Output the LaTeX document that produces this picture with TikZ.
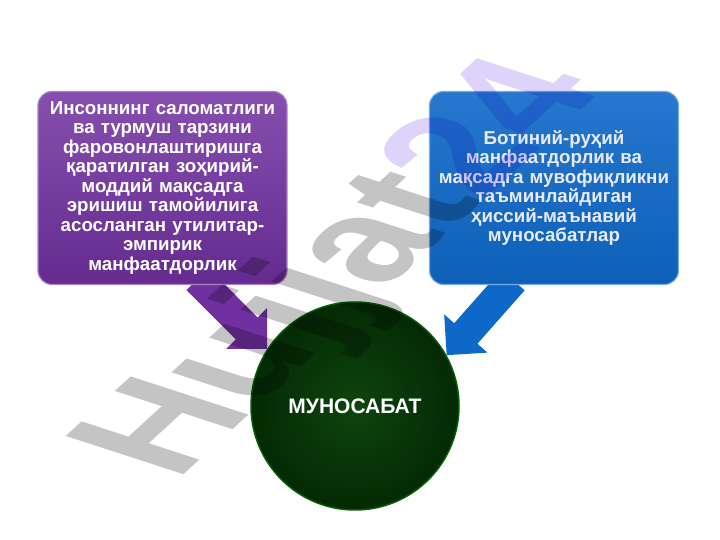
\documentclass[tikz,border=0pt]{standalone}
\usepackage{fontspec}
\setmainfont{Liberation Sans}
\usetikzlibrary{positioning,arrows.meta}

\definecolor{boxpurple}{RGB}{112,48,160}
\definecolor{boxblue}{RGB}{14,104,200}
\definecolor{ringgreen}{RGB}{8,54,8}
\definecolor{ringin}{RGB}{14,68,14}
\definecolor{ringout}{RGB}{4,42,4}
\definecolor{wmgray}{RGB}{196,196,196}
\definecolor{wmlilac}{RGB}{222,212,250}

\pgfdeclarelayer{back}
\pgfsetlayers{back,main}

\begin{document}
\begin{tikzpicture}[x=1pt,y=1pt,>=stealth,thick]

\tikzstyle{textbox}=[rectangle,rounded corners=14pt,inner sep=0pt,minimum width=249pt,minimum height=193pt,text width=249pt,align=center,font=\fontsize{18.7}{19.5}\selectfont\bfseries,line width=1.2pt]
\tikzstyle{bigarrow}=[line width=31pt,-{Triangle[width=56pt,length=29pt]}]

\useasboundingbox (0,0) rectangle (720,540);

\node[textbox,top color=boxpurple!85!white,bottom color=boxpurple!90!black,draw=boxpurple!60!white,text=white] (lbox) at (162.5,352)
  {Инсоннинг саломатлиги\\ва турмуш тарзини\\фаровонлаштиришга\\қаратилган зоҳирий-\\моддий мақсадга\\эришиш тамойилига\\асосланган утилитар-\\эмпирик\\манфаатдорлик};
\node[textbox,top color=boxblue!90!white,bottom color=boxblue!92!black,draw=boxblue!55!white,text=blue!8!white] (rbox) at (554,352)
  {Ботиний-руҳий\\манфаатдорлик ва\\мақсадга мувофиқликни\\таъминлайдиган\\ҳиссий-маънавий\\муносабатлар};

\node[circle,minimum size=208pt,inner sep=0pt,inner color=ringin,outer color=ringout,draw=green!20!ringgreen,line width=1.5pt,text=white,font=\fontsize{21}{21}\selectfont\bfseries] (mun) at (355,134) {МУНОСАБАТ};

\begin{pgfonlayer}{back}
\fill[white] (0,0) rectangle (720,540);
\draw[bigarrow,boxpurple] ([xshift=35pt,yshift=6pt]lbox.south) -- (mun.147);
\draw[bigarrow,boxblue] ([xshift=-41pt,yshift=5pt]rbox.south) -- (mun.29);
\end{pgfonlayer}

% watermark
\begin{scope}[blend mode=multiply,shift={(176,58)},cm={0.737,0.676,-1.141,0.371,(0,0)}]
\node[anchor=base west,inner sep=0pt,transform shape,font=\fontsize{150}{150}\selectfont\bfseries] (wm) at (0,0)
  {\textcolor{wmgray}{Hujjat}\textcolor{wmlilac}{24}};
\end{scope}

\end{tikzpicture}
\end{document}
